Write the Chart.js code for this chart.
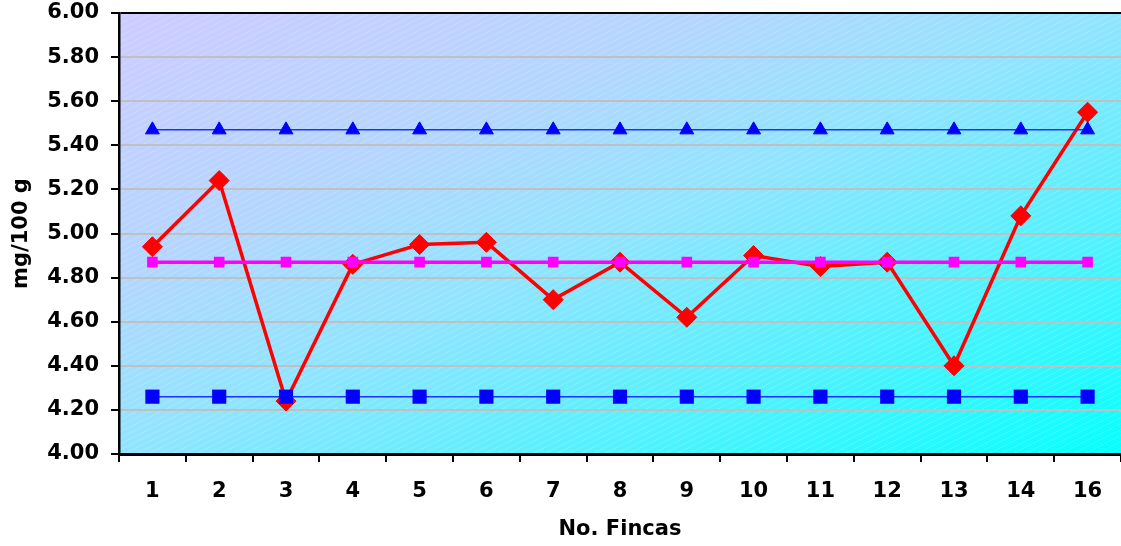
<!DOCTYPE html>
<html>
<head>
<meta charset="utf-8">
<script src="https://cdn.jsdelivr.net/npm/chart.js@4/dist/chart.umd.min.js"></script>
<style>
  html, body { margin: 0; padding: 0; background: #fff; }
  #wrap { width: 1121px; height: 546px; position: relative; }
</style>
</head>
<body>
<div id="wrap"><canvas id="c"></canvas></div>
<script>
// Farm numbers (farm 15 is not in the series)
const fincas = ['1', '2', '3', '4', '5', '6', '7', '8', '9', '10', '11', '12', '13', '14', '16'];

// Measured content per farm, mg/100 g
const valores = [4.94, 5.24, 4.24, 4.86, 4.95, 4.96, 4.70, 4.87, 4.62, 4.90, 4.85, 4.87, 4.40, 5.08, 5.55];

// Control lines: upper limit, mean, lower limit
const limiteSuperior = 5.47;
const media = 4.87;
const limiteInferior = 4.26;

// Y axis range and step
const yMin = 4.0;
const yMax = 6.0;
const yStep = 0.2;

const constante = v => fincas.map(() => v);

// Plot-area background: diagonal lavender-to-cyan gradient with a faint hatch
const plotBackground = {
  id: 'plotBackground',
  beforeDraw(chart) {
    const { ctx, chartArea: a } = chart;
    const W = a.right - a.left, H = a.bottom - a.top;
    const k = 2 * W * H / (W * W + H * H);
    const g = ctx.createLinearGradient(a.left, a.top, a.left + H * k, a.top + W * k);
    g.addColorStop(0, 'rgb(206,204,255)');
    g.addColorStop(0.3, 'rgb(180,214,255)');
    g.addColorStop(0.5, 'rgb(145,228,255)');
    g.addColorStop(0.75, 'rgb(80,242,253)');
    g.addColorStop(1, 'rgb(5,255,255)');
    ctx.save();
    ctx.fillStyle = g;
    ctx.fillRect(a.left, a.top, W, H);
    // faint hatch
    const tile = document.createElement('canvas');
    tile.width = 12; tile.height = 6;
    const t = tile.getContext('2d');
    t.strokeStyle = 'rgba(255,255,255,0.18)';
    t.lineWidth = 1;
    t.beginPath();
    t.moveTo(0, 6); t.lineTo(12, 0);
    t.stroke();
    ctx.fillStyle = ctx.createPattern(tile, 'repeat');
    ctx.fillRect(a.left, a.top, W, H);
    ctx.restore();
  }
};

const font = { family: '"DejaVu Sans", Verdana, sans-serif', weight: 'bold', size: 21 };

new Chart(document.getElementById('c'), {
  type: 'line',
  data: {
    labels: fincas,
    datasets: [
      {
        label: 'Fincas',
        data: valores,
        borderColor: '#ff0000',
        backgroundColor: '#ff0000',
        borderWidth: 3.5,
        pointStyle: 'rectRot',
        pointRadius: 10,
        pointBorderWidth: 1,
        order: 4
      },
      {
        label: 'Media',
        data: constante(media),
        borderColor: '#ff00ff',
        backgroundColor: '#ff00ff',
        borderWidth: 3.5,
        pointStyle: 'rect',
        pointRadius: 7.5,
        pointBorderWidth: 0,
        order: 3
      },
      {
        label: 'Límite superior',
        data: constante(limiteSuperior),
        borderColor: '#1a33ff',
        backgroundColor: '#0000ff',
        pointBorderColor: '#0000ff',
        borderWidth: 1.5,
        pointStyle: 'triangle',
        pointRadius: 8,
        pointBorderWidth: 1,
        order: 2
      },
      {
        label: 'Límite inferior',
        data: constante(limiteInferior),
        borderColor: '#1a33ff',
        backgroundColor: '#0000ff',
        pointBorderColor: '#0000ff',
        borderWidth: 1.5,
        pointStyle: 'rect',
        pointRadius: 10,
        pointBorderWidth: 0,
        order: 1
      }
    ]
  },
  options: {
    responsive: true,
    maintainAspectRatio: false,
    animation: false,
    events: [],
    layout: { autoPadding: false, padding: { top: 13, right: 0, bottom: 0, left: 0 } },
    plugins: { legend: { display: false }, tooltip: { enabled: false } },
    elements: { line: { tension: 0 } },
    scales: {
      x: {
        type: 'category',
        offset: true,
        afterFit(s) { s.height = 92; s.paddingLeft = 0; s.paddingRight = 0; },
        grid: {
          offset: true,
          drawOnChartArea: false,
          tickLength: 8,
          tickColor: '#000',
          lineWidth: 2
        },
        border: { color: '#000', width: 3 },
        ticks: { color: '#000', font, padding: 17, maxRotation: 0, autoSkip: false },
        title: {
          display: true,
          text: 'No. Fincas',
          color: '#000',
          font,
          padding: { top: 0, bottom: 4 }
        }
      },
      y: {
        min: yMin,
        max: yMax,
        afterFit(s) { s.width = 119; s.paddingTop = 0; s.paddingBottom = 0; },
        grid: {
          color: c => (c.tick && Math.abs(c.tick.value - yMax) < 1e-9) ? '#000' : '#c0c0c0',
          lineWidth: 2,
          tickLength: 8,
          tickColor: '#000'
        },
        border: { color: '#000', width: 2.5 },
        ticks: {
          stepSize: yStep,
          color: '#000',
          font,
          padding: 12,
          callback: v => Number(v).toFixed(2)
        },
        title: {
          display: true,
          text: 'mg/100 g',
          color: '#000',
          font,
          padding: { top: 9, bottom: 0 }
        }
      }
    }
  },
  plugins: [plotBackground]
});
</script>
</body>
</html>
